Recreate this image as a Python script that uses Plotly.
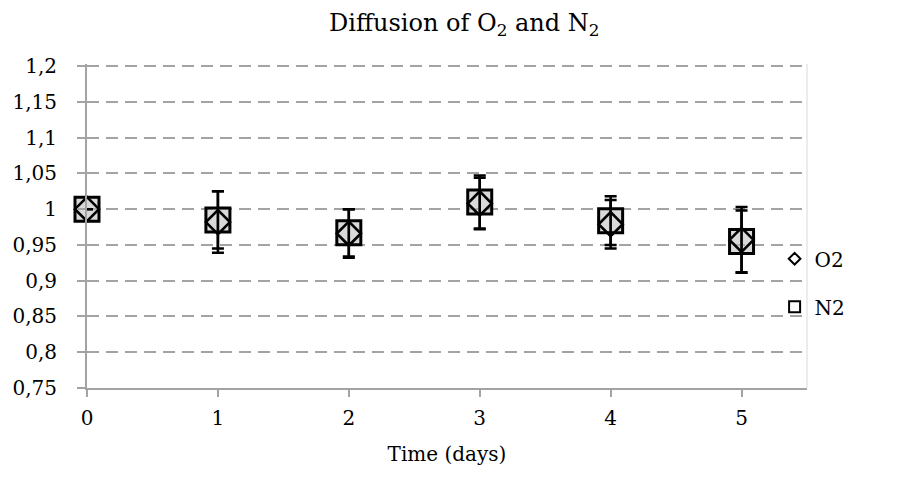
import plotly.graph_objects as go

days = [0, 1, 2, 3, 4, 5]
o2_values = [1.0, 0.982, 0.966, 1.008, 0.979, 0.957]
o2_errors = [0.0, 0.043, 0.034, 0.036, 0.034, 0.046]
n2_values = [1.0, 0.985, 0.967, 1.010, 0.984, 0.955]
n2_errors = [0.0, 0.040, 0.033, 0.037, 0.034, 0.043]
y_tick_values = [0.75, 0.8, 0.85, 0.9, 0.95, 1.0, 1.05, 1.1, 1.15, 1.2]
y_tick_labels = ["0,75", "0,8", "0,85", "0,9", "0,95", "1", "1,05", "1,1", "1,15", "1,2"]
x_tick_values = [0, 1, 2, 3, 4, 5]
x_tick_labels = ["0", "1", "2", "3", "4", "5"]

FONT = "DejaVu Serif"
GRID = "#a3a3a3"

fig = go.Figure()

# N2 squares (drawn first, below)
fig.add_trace(go.Scatter(
    x=days, y=n2_values, mode="markers", name="N2", showlegend=False, cliponaxis=False,
    marker=dict(symbol="square", size=24, color="rgba(185,185,185,0.55)",
                line=dict(color="black", width=3)),
    error_y=dict(type="data", array=n2_errors, visible=True,
                 color="black", thickness=2.5, width=6),
))
# O2 diamonds (on top)
fig.add_trace(go.Scatter(
    x=days, y=o2_values, mode="markers", name="O2", showlegend=False, cliponaxis=False,
    marker=dict(symbol="diamond", size=18.5, color="rgba(0,0,0,0)",
                line=dict(color="black", width=2.6)),
    error_y=dict(type="data", array=o2_errors, visible=True,
                 color="black", thickness=2.5, width=6),
))
# legend entries
fig.add_trace(go.Scatter(
    x=[None], y=[None], mode="markers", name="O2", legendgroup="a", legendrank=1,
    marker=dict(symbol="diamond-open", size=9, color="black", line=dict(width=2)),
))
fig.add_trace(go.Scatter(
    x=[None], y=[None], mode="markers", name="N2", legendgroup="b", legendrank=2,
    marker=dict(symbol="square-open", size=11, color="black", line=dict(width=2)),
))

fig.update_layout(
    width=923, height=491,
    margin=dict(l=84, r=116, t=64, b=103),
    paper_bgcolor="white", plot_bgcolor="white",
    font=dict(family=FONT, size=20, color="black"),
    title=dict(text="Diffusion of O<sub>2</sub> and N<sub>2</sub>",
               x=0.503, xref="container", xanchor="center",
               y=1 - 23 / 491, yref="container", yanchor="middle",
               font=dict(family=FONT, size=24, color="black")),
    legend=dict(x=0.955, xanchor="left", y=0.325, yanchor="middle",
                traceorder="grouped", tracegroupgap=19, itemwidth=30,
                font=dict(family=FONT, size=20, color="black"),
                bgcolor="rgba(0,0,0,0)"),
    xaxis=dict(range=[0, 5.5], tickvals=x_tick_values, ticktext=x_tick_labels,
               showgrid=False, zeroline=False, showline=True, linecolor=GRID, linewidth=2,
               ticks="outside", ticklen=7, tickwidth=2, tickcolor=GRID,
               ticklabelstandoff=4,
               title=dict(text="Time (days)", standoff=18,
                          font=dict(family=FONT, size=20, color="black"))),
    yaxis=dict(range=[0.75, 1.203], tickvals=y_tick_values, ticktext=y_tick_labels,
               showgrid=True, gridcolor=GRID, gridwidth=2, griddash="12px,7px",
               zeroline=False, showline=True, linecolor=GRID, linewidth=2,
               ticks="outside", ticklen=8, tickwidth=2, tickcolor=GRID,
               ticklabelstandoff=16),
    shapes=[dict(type="line", xref="paper", yref="paper", x0=1, x1=1, y0=0, y1=1,
                 line=dict(color="#d9d9d9", width=1))],
)

fig.write_html("out.html")
